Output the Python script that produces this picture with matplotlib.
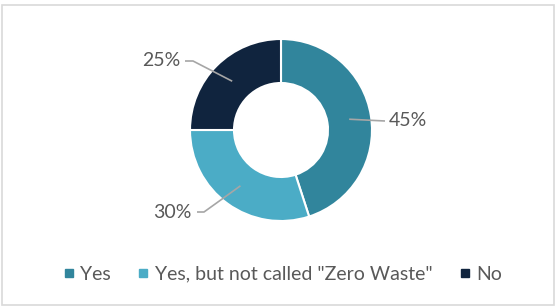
import numpy as np
import matplotlib
matplotlib.use("Agg")
import matplotlib.pyplot as plt
from matplotlib.patches import Rectangle
from matplotlib.lines import Line2D

categories = ["Yes", 'Yes, but not called "Zero Waste"', "No"]
values = [45, 30, 25]
labels = ["45%", "30%", "25%"]
colors = ["#31859C", "#4BACC6", "#10243E"]

W, H = 555, 306
plt.rcParams['font.family'] = ['Lato', 'DejaVu Sans']
fs = 14
tc = "#595959"

fig = plt.figure(figsize=(W / 100, H / 100), dpi=100)
ax = fig.add_axes([0, 0, 1, 1])

cx, cy = 281, H - 130
R, r_in = 91, 47
wedges, _ = ax.pie(values, colors=colors, startangle=90, counterclock=False,
                   center=(cx, cy), radius=R,
                   wedgeprops=dict(width=R - r_in, edgecolor="white", linewidth=1.5))
ax.set_xlim(0, W)
ax.set_ylim(0, H)
ax.set_aspect("equal")
ax.axis("off")

# leader lines and labels
r_mid = (R + r_in) / 2
lc = "#A6A6A6"
layout = [
    dict(elbow=(385, 121), end=(385, 121), text=(389, 121), ha="left"),
    dict(elbow=(204, 212), end=(197, 212), text=(192, 212), ha="right"),
    dict(elbow=(193, 61), end=(185, 61), text=(180, 61), ha="right"),
]
for w, lab, lay in zip(wedges, labels, layout):
    ang = np.deg2rad((w.theta1 + w.theta2) / 2)
    ax0, ay0 = cx + r_mid * np.cos(ang), cy + r_mid * np.sin(ang)
    ex, ey = lay["elbow"]
    fx, fy = lay["end"]
    ax.plot([ax0, ex, fx], [ay0, H - ey, H - fy], color=lc, lw=1.2, solid_capstyle="butt")
    tx, ty = lay["text"]
    ax.text(tx, H - ty, lab, ha=lay["ha"], va="center", fontsize=fs, color=tc)

# border
fig.patches.append(Rectangle((1.5 / W, 1.5 / H), (W - 3) / W, (H - 6) / H,
                             transform=fig.transFigure, fill=False,
                             edgecolor="#D9D9D9", linewidth=1.2))

handles = [Line2D([], [], linestyle="none", marker="s", markersize=5.5,
                  markerfacecolor=c, markeredgecolor=c) for c in colors]
leg = fig.legend(handles, categories, loc="center",
                 bbox_to_anchor=(0.5 + 6 / W, 1 - 274 / H),
                 ncol=3, frameon=False, fontsize=fs, labelcolor=tc,
                 handlelength=0.4, handletextpad=0.4, columnspacing=1.45)

fig.savefig("out.png", dpi=100)
